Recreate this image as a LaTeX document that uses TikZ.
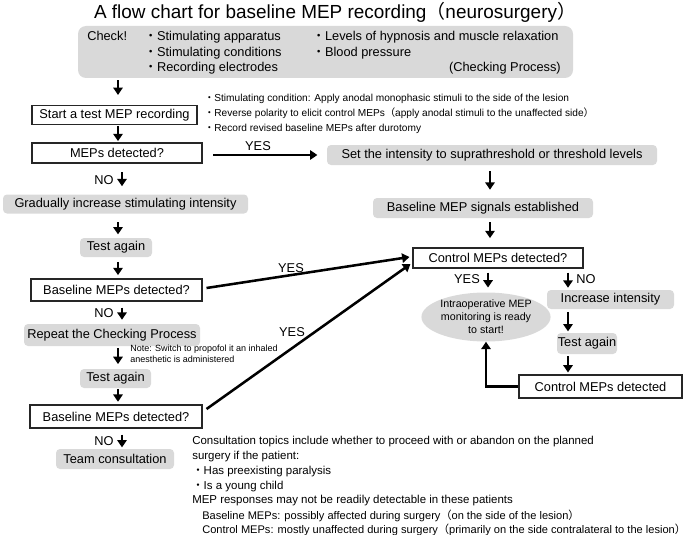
\documentclass[tikz,border=0pt]{standalone}
\usepackage{fontspec}
\setmainfont{Liberation Sans}
\newfontfamily\cjkfont{Noto Sans CJK JP}
\usetikzlibrary{arrows.meta,calc,shapes.geometric}
\newcommand\fwbul{{\cjkfont ・}}
\newcommand\fwlp{{\cjkfont （}}
\newcommand\fwrp{{\cjkfont ）}}
\definecolor{boxgray}{RGB}{217,217,217}
\begin{document}
\begin{tikzpicture}[x=0.75pt,y=-0.75pt,
  sz/.style 2 args={minimum width=#1*0.75pt, minimum height=#2*0.75pt},
  body/.style={font=\fontsize{9.6pt}{11pt}\selectfont},
  box/.style={body, draw=black!85, line width=0.8pt, inner sep=0pt},
  gbox/.style={body, fill=boxgray, rounded corners=3pt, inner sep=0pt},
  lab/.style={body, inner sep=0pt, text height=1.5ex, text depth=.3ex},
  side/.style={font=\fontsize{7.6pt}{9pt}\selectfont, inner sep=0pt, text height=1.5ex, text depth=.3ex, anchor=west},
  con/.style={font=\fontsize{8.6pt}{10pt}\selectfont, inner sep=0pt, text height=1.5ex, text depth=.3ex, anchor=west},
  consm/.style={font=\fontsize{8.3pt}{9pt}\selectfont, inner sep=0pt, text height=1.5ex, text depth=.3ex, anchor=west},
  arr/.style={line width=1.9pt, -{Triangle[length=5.5pt,width=7pt]}},
]
\useasboundingbox (0,0) rectangle (685,535);

% title
\node[font=\fontsize{14.2pt}{16pt}\selectfont, inner sep=0pt] (title) at (335,12) {A flow chart for baseline MEP recording\fwlp neurosurgery\fwrp};

% check box
\node[gbox, rounded corners=6pt, sz={495}{52}] (check) at (325.5,52) {};
\node[lab, anchor=west] (chk) at (87,36) {Check!};
\node[lab, anchor=west] (c1) at (144,36) {\fwbul Stimulating apparatus};
\node[lab, anchor=west] (c2) at (144,52) {\fwbul Stimulating conditions};
\node[lab, anchor=west] (c3) at (144,67) {\fwbul Recording electrodes};
\node[lab, anchor=west] (c4) at (312,36) {\fwbul Levels of hypnosis and muscle relaxation};
\node[lab, anchor=west] (c5) at (312,52) {\fwbul Blood pressure};
\node[lab, anchor=east] (c6) at (561,67) {(Checking Process)};

% left column
\node[box, sz={165}{19}] (start) at (114.5,115) {Start a test MEP recording};
\node[box, sz={170}{20}] (mep) at (117,153) {MEPs detected?};
\node[gbox, sz={245}{19}] (grad) at (125.5,204) {Gradually increase stimulating intensity};
\node[gbox, sz={72}{19}] (test1) at (116,247.5) {Test again};
\node[box, sz={171}{22}] (base1) at (116.5,290) {Baseline MEPs detected?};
\node[gbox, sz={176}{22}] (rep) at (112,335) {Repeat the Checking Process};
\node[gbox, sz={71}{19}] (test2) at (115.5,378.5) {Test again};
\node[box, sz={172}{23}] (base2) at (116,416.5) {Baseline MEPs detected?};
\node[gbox, sz={118}{20}] (team) at (115,459) {Team consultation};

% right column
\node[gbox, sz={330}{20}] (set) at (492,155) {Set the intensity to suprathreshold or threshold levels};
\node[gbox, sz={220}{20}] (est) at (483,208) {Baseline MEP signals established};
\node[box, sz={170}{20}] (ctrlq) at (498,258) {Control MEPs detected?};
\node[ellipse, fill=boxgray, sz={118}{49}, inner sep=0pt, align=center, font=\fontsize{8pt}{9.75pt}\selectfont] (ready) at (486,317) {Intraoperative MEP\\monitoring is ready\\to start!};
\node[gbox, sz={127}{19}] (incr) at (610.5,299.5) {Increase intensity};
\node[gbox, sz={60}{21}] (test3) at (587,343.5) {Test again};
\node[box, sz={163}{23}] (ctrld) at (600.5,386.5) {Control MEPs detected};

% side notes
\node[side] (s1) at (204,97) {\fwbul Stimulating condition: Apply anodal monophasic stimuli to the side of the lesion};
\node[side] (s2) at (204,112) {\fwbul Reverse polarity to elicit control MEPs\fwlp apply anodal stimuli to the unaffected side\fwrp};
\node[side] (s3) at (204,127) {\fwbul Record revised baseline MEPs after durotomy};

\node[font=\fontsize{6.75pt}{8.25pt}\selectfont, inner sep=0pt, anchor=north west, align=left] (note) at (130,345) {Note: Switch to propofol it an inhaled\\anesthetic is administered};

% consultation text
\node[con] (k1) at (192,440) {Consultation topics include whether to proceed with or abandon on the planned};
\node[con] (k2) at (192,455) {surgery if the patient:};
\node[con] (k3) at (192,470) {\fwbul Has preexisting paralysis};
\node[con] (k4) at (192,485) {\fwbul Is a young child};
\node[con] (k5) at (192,499) {MEP responses may not be readily detectable in these patients};
\node[consm] (k6) at (202,515) {Baseline MEPs: possibly affected during surgery\fwlp on the side of the lesion\fwrp};
\node[consm] (k7) at (202,529) {Control MEPs: mostly unaffected during surgery\fwlp primarily on the side contralateral to the lesion\fwrp};

% arrow x positions
\coordinate (L) at (118,0);
\coordinate (LN) at (122,0);
\coordinate (R) at (490,0);
\coordinate (RY) at (488,0);
\coordinate (RN) at (568,0);

\draw[arr, shorten <=1.5pt, shorten >=7.5pt] (check.south -| L) -- (start.north -| L);
\draw[arr, shorten <=1pt, shorten >=1pt] (start.south -| L) -- (mep.north -| L);
\draw[arr, shorten <=6.5pt, shorten >=6pt] (mep.south -| LN) -- (grad.north -| LN);
\draw[arr, shorten <=6.5pt, shorten >=2.5pt] (grad.south -| L) -- (test1.north -| L);
\draw[arr, shorten <=3.5pt, shorten >=2.5pt] (test1.south -| L) -- (base1.north -| L);
\draw[arr, shorten <=4.5pt, shorten >=3pt] (base1.south -| LN) -- (rep.north -| LN);
\draw[arr, shorten <=1.5pt, shorten >=3.5pt] (rep.south -| L) -- (test2.north -| L);
\draw[arr, shorten <=0.5pt, shorten >=2pt] (test2.south -| L) -- (base2.north -| L);
\draw[arr, shorten <=4.5pt, shorten >=1pt] (base2.south -| LN) -- (team.north -| LN);

\draw[arr, shorten <=4.5pt, shorten >=6pt] (set.south -| R) -- (est.north -| R);
\draw[arr, shorten <=3pt, shorten >=7pt] (est.south -| R) -- (ctrlq.north -| R);
\draw[arr, shorten <=3pt, shorten >=3.5pt] (ctrlq.south -| RY) -- (ready.north -| RY);
\draw[arr, shorten <=3pt, shorten >=1.5pt] (ctrlq.south -| RN) -- (incr.north -| RN);
\draw[arr, shorten <=2pt, shorten >=1pt] (incr.south -| RN) -- (test3.north -| RN);
\draw[arr, shorten <=1.5pt, shorten >=1.5pt] (test3.south -| RN) -- (ctrld.north -| RN);
\draw[arr] (ctrld.west) -| (ready.south);

\draw[arr, shorten <=8pt, shorten >=7pt] (mep.east |- set.west) -- (set.west);
\draw[arr] ($(base1.east)+(4,-2)$) -- ($(ctrlq.west)+(-3,-1)$);
\draw[arr] ($(base2.east)+(4,-7.5)$) -- ($(ctrlq.west)+(-2,6)$);

% labels
\node[lab] (y1) at (258,146) {YES};
\node[lab] (y2) at (291,268) {YES};
\node[lab] (y3) at (292,332) {YES};
\node[lab] (y4) at (467,279) {YES};
\node[lab] (n4) at (586,279) {NO};
\node[lab] (n1) at (104,180) {NO};
\node[lab] (n2) at (104,313) {NO};
\node[lab] (n3) at (104,441) {NO};
\end{tikzpicture}
\end{document}
